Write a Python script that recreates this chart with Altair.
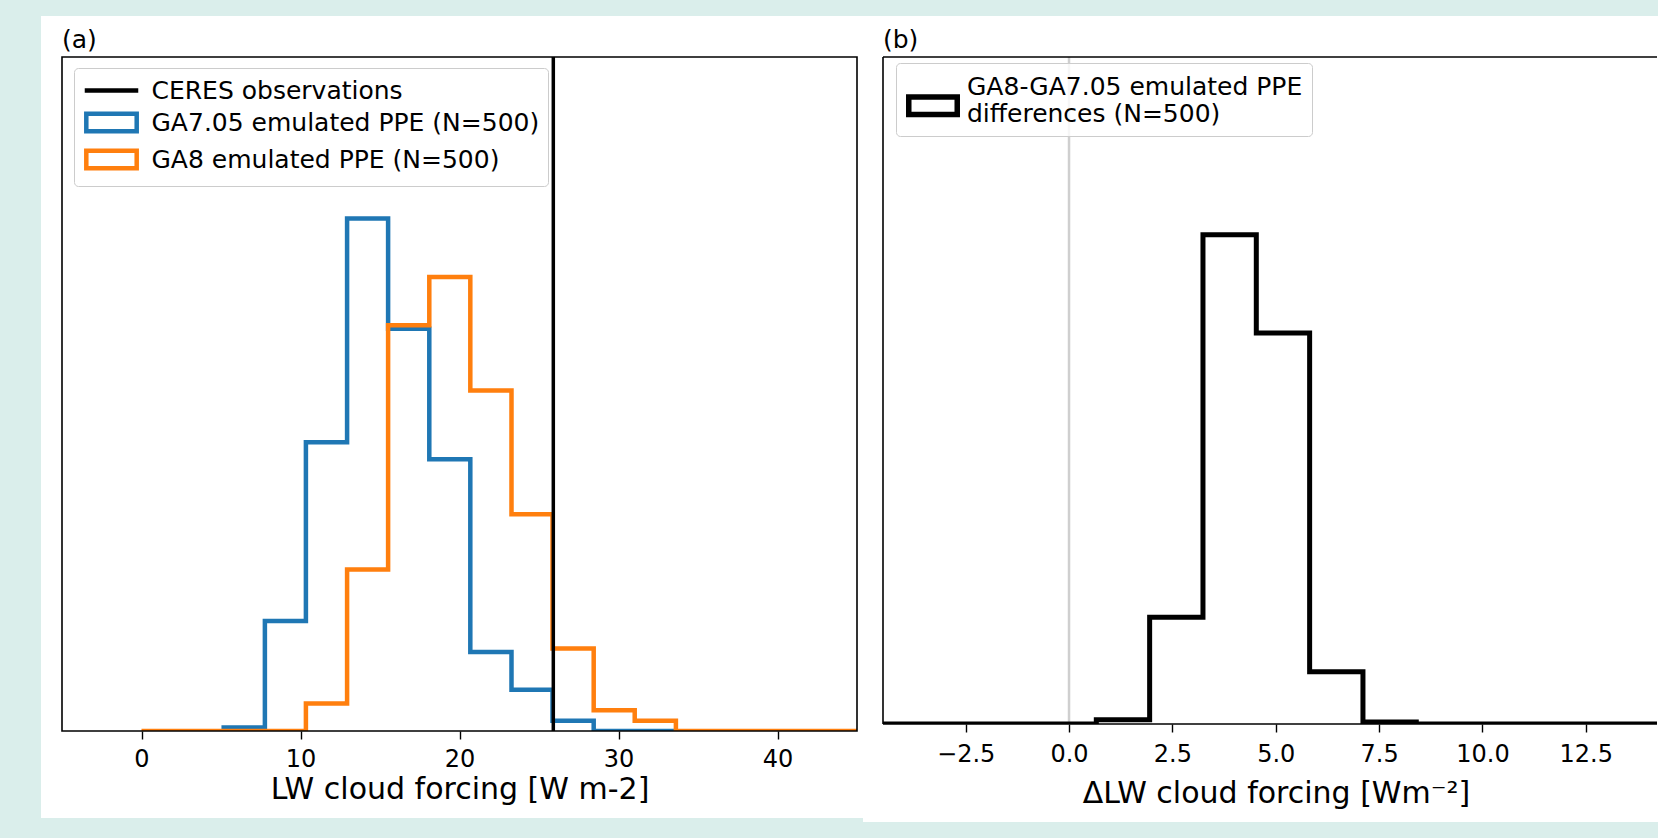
import altair as alt
import pandas as pd

FONT = "DejaVu Sans"

# ---------------- values ----------------
ceres_value = [25.9]

ga705_edges = [5.17, 7.76, 10.34, 12.93, 15.51, 18.10, 20.68, 23.27, 25.85, 28.44, 31.02, 33.61]
ga705_counts = [1, 32, 84, 149, 117, 79, 23, 12, 3, 0, 0]

ga8_edges = [0.0, 2.59, 5.17, 7.76, 10.34, 12.93, 15.51, 18.10, 20.68, 23.27, 25.85,
             28.44, 31.02, 33.61, 36.19, 38.78, 41.36, 43.95, 46.53]
ga8_counts = [0, 0, 0, 0, 8, 47, 118, 132, 99, 63, 24, 6, 3, 0, 0, 0, 0, 0]

diff_edges = [-4.50, -3.21, -1.92, -0.63, 0.66, 1.95, 3.24, 4.53, 5.82, 7.11, 8.40,
              9.69, 10.98, 12.27, 13.56, 14.85]
diff_counts = [0, 0, 0, 0, 2, 51, 234, 187, 25, 1, 0, 0, 0, 0, 0]

left_series = ["CERES observations", "GA7.05 emulated PPE (N=500)", "GA8 emulated PPE (N=500)"]
left_colors = ["black", "#1f77b4", "#ff7f0e"]
right_series = ["GA8-GA7.05 emulated PPE\ndifferences (N=500)"]
right_colors = ["black"]

left_ticks = [0, 10, 20, 30, 40]
right_ticks = [-2.5, 0.0, 2.5, 5.0, 7.5, 10.0, 12.5]
zero_line = [0.0]
panel_labels = ["(a)", "(b)"]


def step_table(edges, counts, name):
    rows = [{"x": edges[0], "count": 0, "i": 0, "series": name}]
    for k, c in enumerate(counts):
        rows.append({"x": edges[k], "count": c, "i": k + 1, "series": name})
    rows.append({"x": edges[-1], "count": 0, "i": len(counts) + 1, "series": name})
    return rows


one_row = pd.DataFrame({"k": [0]})

W_L, H_L = 795, 674
W_R, H_R = 774, 667


def panel_label(text):
    return alt.Chart(one_row).mark_text(
        text=text, align="left", baseline="alphabetic", font=FONT, fontSize=25, color="black"
    ).encode(x=alt.value(0), y=alt.value(-9))


# ---------------- left panel ----------------
left_df = pd.DataFrame(step_table(ga705_edges, ga705_counts, left_series[1])
                       + step_table(ga8_edges, ga8_counts, left_series[2]))
ceres_df = pd.DataFrame({"x": ceres_value, "series": [left_series[0]]})

legend_left = alt.Legend(
    title=None, orient="none", legendX=12, legendY=11, padding=8,
    strokeColor="#cccccc", fillColor="rgba(255,255,255,0.8)", cornerRadius=4,
    labelFont=FONT, labelFontSize=25, labelColor="black", labelLimit=1000,
    labelOffset=25.5, symbolOffset=15, symbolSize=576, symbolStrokeWidth=4.5, rowPadding=0,
    symbolFillColor="transparent",
    symbolType={"expr": "datum.value === 'CERES observations' ? 'M-2.23,0H2.23' : 'M-2.1,-0.73H2.1V0.73H-2.1Z'"},
)
color_left = alt.Color("series:N", scale=alt.Scale(domain=left_series, range=left_colors),
                       legend=legend_left)
x_left = alt.X("x:Q", scale=alt.Scale(domain=[-5, 45], nice=False, zero=False),
               axis=alt.Axis(values=left_ticks, format="d", title="LW cloud forcing [W m-2]",
                             labelPadding=8.7, titlePadding=3, zindex=1))

bg_left = alt.Chart(one_row).mark_rect(color="white").encode(
    x=alt.value(-21), x2=alt.value(801), y=alt.value(-41), y2=alt.value(761))

hist_left = alt.Chart(left_df).mark_line(interpolate="step-after", strokeWidth=4.5, clip=True).encode(
    x=x_left,
    y=alt.Y("count:Q", scale=alt.Scale(domain=[0, 196], nice=False), axis=None),
    color=color_left,
    order=alt.Order("i:Q"),
)
ceres_rule = alt.Chart(ceres_df).mark_rule(strokeWidth=3.5).encode(
    x=alt.X("x:Q"), color=color_left)

frame_left = alt.Chart(one_row).mark_rect(fillOpacity=0, stroke="black", strokeWidth=1.6).encode(
    x=alt.value(0), x2=alt.value("width"), y=alt.value(0), y2=alt.value("height"))

left = alt.layer(bg_left, hist_left, ceres_rule, frame_left, panel_label(panel_labels[0])).properties(
    width=W_L, height=H_L)

# ---------------- right panel ----------------
right_df = pd.DataFrame(step_table(diff_edges, diff_counts, right_series[0]))
zero_df = pd.DataFrame({"x": zero_line})

legend_right = alt.Legend(
    title=None, orient="none", legendX=13, legendY=6, padding=9,
    strokeColor="#cccccc", fillColor="rgba(255,255,255,0.8)", cornerRadius=4,
    labelFont=FONT, labelFontSize=25, labelColor="black", labelLimit=1000,
    labelOffset=19, symbolOffset=13, symbolSize=576, symbolStrokeWidth=5.5,
    symbolFillColor="transparent", symbolType="M-2.02,0.83H2.02V2.29H-2.02Z",
    labelExpr="split(datum.label, '\\n')",
)
x_right = alt.X("x:Q", scale=alt.Scale(domain=[-4.5, -4.5 + W_R / 41.34], nice=False, zero=False),
                axis=alt.Axis(values=right_ticks,
                              labelExpr="replace(format(datum.value, '.1f'), '-', '\u2212')",
                              title="\u0394LW cloud forcing [Wm\u207b\u00b2]",
                              labelPadding=10.7, titlePadding=12, titleX=393, zindex=1))

bg_right = alt.Chart(one_row).mark_rect(color="white").encode(
    x=alt.value(-20), x2=alt.value(775), y=alt.value(-41), y2=alt.value(765))

zero_rule = alt.Chart(zero_df).mark_rule(color="#cfcfcf", strokeWidth=2.5).encode(x=x_right)

hist_right = alt.Chart(right_df).mark_line(interpolate="step-after", strokeWidth=5, clip=True).encode(
    x=x_right,
    y=alt.Y("count:Q", scale=alt.Scale(domain=[0, 319], nice=False), axis=None),
    color=alt.Color("series:N", scale=alt.Scale(domain=right_series, range=right_colors),
                    legend=legend_right),
    order=alt.Order("i:Q"),
)

top_right = alt.Chart(one_row).mark_rule(color="black", strokeWidth=1.6).encode(
    x=alt.value(0), x2=alt.value("width"), y=alt.value(0))
leftside_right = alt.Chart(one_row).mark_rule(color="black", strokeWidth=1.6).encode(
    x=alt.value(0), y=alt.value(0), y2=alt.value("height"))
bottom_right = alt.Chart(one_row).mark_rule(color="black", strokeWidth=1.6).encode(
    x=alt.value(0), x2=alt.value("width"), y=alt.value("height"))

right = alt.layer(bg_right, zero_rule, hist_right, top_right, leftside_right, bottom_right,
                  panel_label(panel_labels[1])).properties(width=W_R, height=H_R)

chart = alt.hconcat(left, right, spacing=26, bounds="flush").resolve_scale(
    color="independent").resolve_legend(color="independent").properties(
    padding={"left": 41, "top": 16, "right": 0, "bottom": 16},
    background="#daeeeb",
).configure_view(strokeWidth=0).configure_axis(
    labelFont=FONT, labelFontSize=24, labelColor="black",
    titleFont=FONT, titleFontSize=30, titleFontWeight="normal", titleColor="black",
    tickSize=8, tickColor="black", tickWidth=1.4, domain=False, grid=False, zindex=1,
)

chart.save("out.html", embed_options={"renderer": "svg", "actions": False})
